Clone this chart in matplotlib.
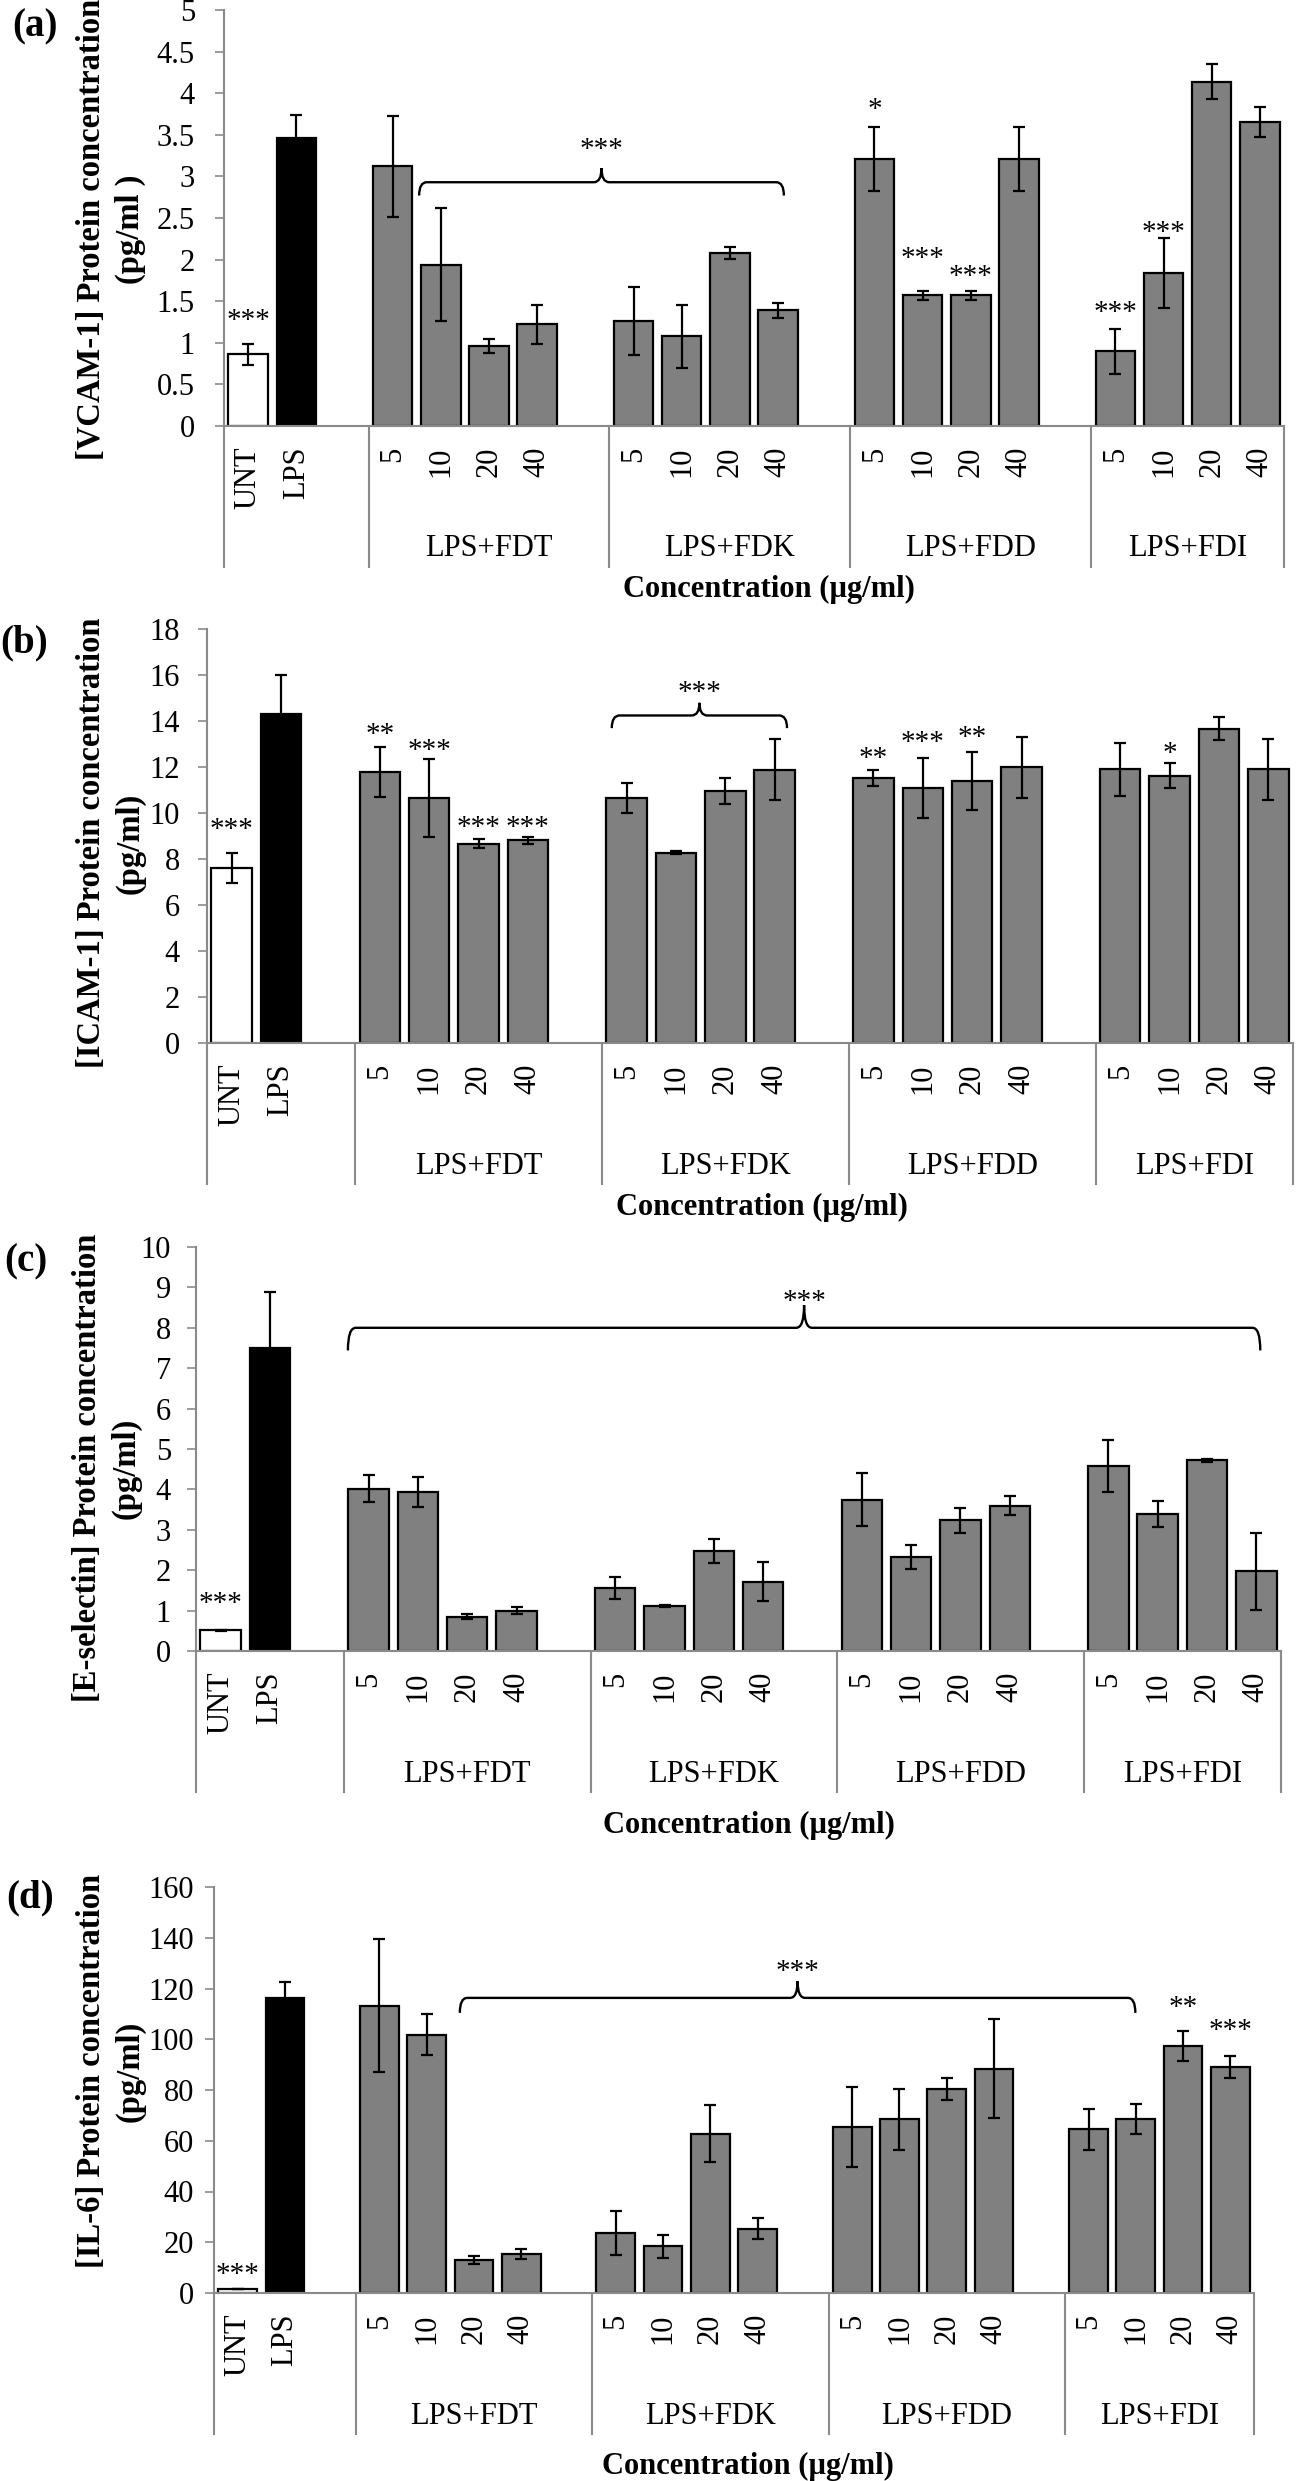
import matplotlib
matplotlib.use('Agg')
import matplotlib.pyplot as plt
import matplotlib.transforms as mtransforms
from matplotlib.path import Path
from matplotlib.patches import PathPatch

plt.rcParams['font.family'] = ['Liberation Serif', 'DejaVu Serif']

# ---------------- data ----------------
controls = ["UNT", "LPS"]
groups = ["LPS+FDT", "LPS+FDK", "LPS+FDD", "LPS+FDI"]
concentrations = ["5", "10", "20", "40"]

vcam_mean = [0.86, 3.46, 3.12, 1.94, 0.96, 1.22, 1.26, 1.08, 2.08, 1.39,
             3.21, 1.57, 1.57, 3.21, 0.90, 1.84, 4.14, 3.65]
vcam_err = [0.13, 0.28, 0.61, 0.68, 0.08, 0.24, 0.41, 0.38, 0.07, 0.09,
            0.38, 0.05, 0.05, 0.38, 0.27, 0.42, 0.21, 0.18]

icam_mean = [7.61, 14.3, 11.77, 10.64, 8.66, 8.80, 10.64, 8.27, 10.95, 11.88,
             11.53, 11.08, 11.39, 11.98, 11.89, 11.62, 13.65, 11.89]
icam_err = [0.65, 1.7, 1.07, 1.68, 0.19, 0.17, 0.65, 0.06, 0.55, 1.34,
            0.35, 1.29, 1.27, 1.32, 1.15, 0.55, 0.5, 1.32]

esel_mean = [0.51, 7.51, 4.02, 3.93, 0.85, 1.00, 1.56, 1.12, 2.47, 1.72,
             3.75, 2.33, 3.24, 3.60, 4.58, 3.39, 4.72, 1.97]
esel_err = [0.02, 1.38, 0.34, 0.37, 0.07, 0.09, 0.27, 0.03, 0.29, 0.48,
            0.65, 0.29, 0.31, 0.23, 0.64, 0.32, 0.03, 0.95]

il6_mean = [1.6, 116.1, 113.2, 101.8, 13.0, 15.3, 23.7, 18.4, 62.7, 25.3,
            65.4, 68.5, 80.4, 88.4, 64.5, 68.4, 97.4, 89.1]
il6_err = [0.0, 6.3, 26.2, 8.0, 1.5, 1.9, 8.7, 4.5, 11.2, 4.1,
           15.8, 12.0, 4.4, 19.4, 8.1, 5.9, 5.8, 4.2]

vcam_ticks = [0, 0.5, 1, 1.5, 2, 2.5, 3, 3.5, 4, 4.5, 5]
icam_ticks = [0, 2, 4, 6, 8, 10, 12, 14, 16, 18]
esel_ticks = [0, 1, 2, 3, 4, 5, 6, 7, 8, 9, 10]
il6_ticks = [0, 20, 40, 60, 80, 100, 120, 140, 160]

# significance marks: (bar index, text, y of glyph centre)
vcam_stars = [(0, "***", 1.34), (10, "*", 3.87), (11, "***", 2.08),
              (12, "***", 1.87), (14, "***", 1.44), (15, "***", 2.40)]
icam_stars = [(0, "***", 9.54), (2, "**", 13.66), (3, "***", 12.97),
              (4, "***", 9.62), (5, "***", 9.62), (10, "**", 12.6),
              (11, "***", 13.3), (12, "**", 13.54), (15, "*", 12.85)]
esel_stars = [(0, "***", 1.32)]
il6_stars = [(0, "***", 9.8), (16, "**", 115.0), (17, "***", 105.7)]

# braces: (x start slot, x end slot, line y, tip y, peak y, star y)
vcam_brace = (3.55, 11.12, 2.93, 2.77, 3.10, 3.39)
icam_brace = (7.70, 11.25, 14.23, 13.68, 14.78, 15.5)
esel_brace = (2.58, 21.08, 8.0, 7.44, 8.56, 8.81)
il6_brace = (4.70, 18.99, 116.3, 110.4, 122.9, 129.1)

ylabels = ["[VCAM-1] Protein concentration\n(pg/ml )",
           "[ICAM-1] Protein concentration\n(pg/ml)",
           "[E-selectin] Protein concentration\n(pg/ml)",
           "[IL-6] Protein concentration\n(pg/ml)"]
letters = ["(a)", "(b)", "(c)", "(d)"]
xlabel = "Concentration (\u00b5g/ml)"

# ---------------- layout (pixels) ----------------
W, H = 1297, 2481
geo = [
    dict(L=224, R=1284, T=10, B=426, pad=14.4, ylab=(111, 229), xl_x=769, xl_y=589, let=(12, 27)),
    dict(L=207, R=1293, T=628.7, B=1043, pad=13.0, ylab=(111, 843), xl_x=762, xl_y=1207, let=(0, 643)),
    dict(L=196, R=1281, T=1247, B=1651, pad=11.5, ylab=(107, 1468), xl_x=749, xl_y=1825, let=(4, 1262)),
    dict(L=214, R=1254, T=1887, B=2293, pad=8.0, ylab=(111, 2071), xl_x=748, xl_y=2466, let=(6, 1898)),
]

panels = [
    (vcam_mean, vcam_err, vcam_ticks, vcam_stars, vcam_brace),
    (icam_mean, icam_err, icam_ticks, icam_stars, icam_brace),
    (esel_mean, esel_err, esel_ticks, esel_stars, esel_brace),
    (il6_mean, il6_err, il6_ticks, il6_stars, il6_brace),
]

GRAY_AX = '#8a8a8a'
BAR_GRAY = '#808080'

# slot positions
xpos = [0, 1]
for g in range(len(groups)):
    for c in range(len(concentrations)):
        xpos.append(3 + 5 * g + c)
xlabels = controls + concentrations * len(groups)
dividers = [-0.5, 2.5, 7.5, 12.5, 17.5, 21.5]
colors = ['white', 'black'] + [BAR_GRAY] * (len(xpos) - 2)

fig = plt.figure(figsize=(W / 100, H / 100), dpi=100)


def fx(px):
    return px / W


def fy(py):
    return 1 - py / H


def brace_patch(ax, x0, x1, y, yt, yp):
    xm = (x0 + x1) / 2
    r = 0.16
    verts = [(x0, yt), (x0, y), (x0 + r, y),
             (xm - r, y), (xm, y), (xm, yp),
             (xm, y), (xm + r, y),
             (x1 - r, y), (x1, y), (x1, yt)]
    codes = [Path.MOVETO, Path.CURVE3, Path.CURVE3,
             Path.LINETO, Path.CURVE3, Path.CURVE3,
             Path.CURVE3, Path.CURVE3,
             Path.LINETO, Path.CURVE3, Path.CURVE3]
    p = PathPatch(Path(verts, codes), facecolor='none', edgecolor='black',
                  lw=1.7, clip_on=False, zorder=4)
    ax.add_patch(p)


for i, (means, errs, yt, stars, brace) in enumerate(panels):
    g = geo[i]
    axh = g['B'] - g['T']
    ax = fig.add_axes([fx(g['L']), fy(g['B']), (g['R'] - g['L']) / W, axh / H])
    ax.set_xlim(-0.5, 21.5)
    ax.set_ylim(0, yt[-1])
    ax.bar(xpos, means, width=0.82, color=colors, edgecolor='black',
           linewidth=1.6, zorder=2)
    ax.errorbar(xpos, means, yerr=errs, fmt='none', ecolor='black',
                elinewidth=1.6, capsize=4.5, capthick=1.6, zorder=3)

    for s in ['top', 'right']:
        ax.spines[s].set_visible(False)
    for s in ['left', 'bottom']:
        ax.spines[s].set_color(GRAY_AX)
        ax.spines[s].set_linewidth(1.5)

    ax.set_yticks(yt)
    ax.set_yticklabels([f"{v:g}" for v in yt])
    ax.tick_params(axis='y', direction='out', length=6.5, width=1.2,
                   color=GRAY_AX, labelsize=22, pad=g['pad'])
    ax.set_xticks(xpos)
    ax.set_xticklabels(xlabels, rotation=90)
    ax.tick_params(axis='x', length=0, labelsize=22, pad=15)

    trans = mtransforms.blended_transform_factory(ax.transData, ax.transAxes)
    depth = 141 / axh
    for xd in dividers:
        ax.plot([xd, xd], [0, -depth], transform=trans, color=GRAY_AX,
                lw=1.5, clip_on=False)
    for k in range(len(groups)):
        cx = (dividers[k + 1] + dividers[k + 2]) / 2
        ax.text(cx, -123 / axh, groups[k], transform=trans, ha='center',
                va='center', fontsize=22)

    for idx, txt, yc in stars:
        ax.annotate(txt, xy=(xpos[idx], yc), xytext=(0, -9.7),
                    textcoords='offset points', ha='center', va='baseline',
                    fontsize=21, annotation_clip=False)

    x0, x1, yl, ytip, ypk, ys = brace
    brace_patch(ax, x0, x1, yl, ytip, ypk)
    ax.annotate("***", xy=((x0 + x1) / 2, ys), xytext=(0, -9.7),
                textcoords='offset points', ha='center', va='baseline',
                fontsize=21, annotation_clip=False)

    fig.text(fx(g['ylab'][0]), fy(g['ylab'][1]), ylabels[i], rotation=90,
             ha='center', va='center', fontsize=23.5, fontweight='bold',
             linespacing=1.3, multialignment='center')
    fig.text(fx(g['xl_x']), fy(g['xl_y']), xlabel, ha='center', va='center',
             fontsize=22, fontweight='bold')
    fig.text(fx(g['let'][0]), fy(g['let'][1]), letters[i], ha='left',
             va='center', fontsize=28, fontweight='bold')

fig.savefig('out.png', dpi=100)
